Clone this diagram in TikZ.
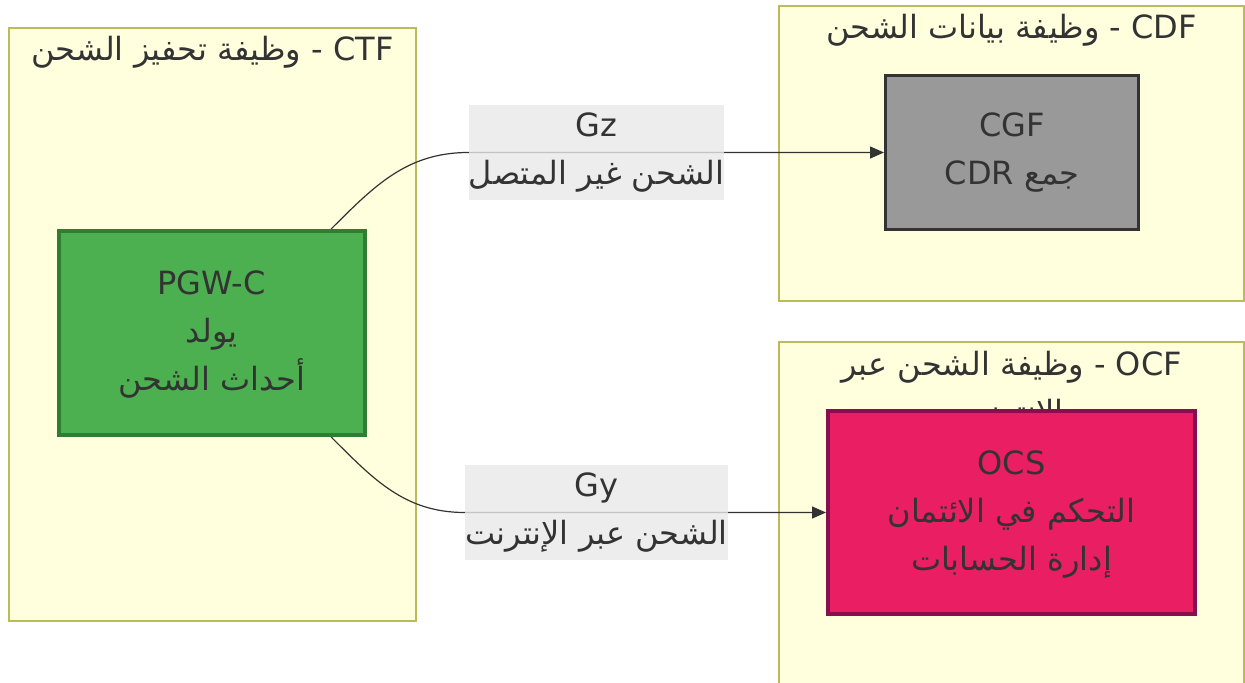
\documentclass[tikz,border=0pt]{standalone}
\usepackage{fontspec}
\setmainfont{DejaVu Sans}
\newfontfamily\arabicfont[Script=Arabic]{DejaVu Sans}
\TeXXeTstate=1
\usetikzlibrary{arrows.meta,positioning}

\definecolor{clusterfill}{HTML}{FFFFDE}
\definecolor{clusterline}{HTML}{AAAA33}
\definecolor{pgwgreen}{HTML}{4CAF50}
\definecolor{pgwdark}{HTML}{2E7D32}
\definecolor{cgfgray}{HTML}{999999}
\definecolor{ocspink}{HTML}{E91E63}
\definecolor{ocsdark}{HTML}{880E4F}
\definecolor{labelgray}{HTML}{E8E8E8}
\definecolor{textgray}{HTML}{333333}

\newcommand{\artext}[1]{{\arabicfont\beginR #1\endR}}
\newcommand{\lat}[1]{\beginL #1\endL{}}

\pgfdeclarelayer{clusters}
\pgfdeclarelayer{edges}
\pgfsetlayers{clusters,edges,main}

\begin{document}
\begin{tikzpicture}[
  x=0.5pt, y=-0.5pt,
  every node/.style={font=\fontsize{16}{24}\selectfont, text=textgray, align=center},
  cluster/.style={draw=clusterline!80, fill=clusterfill, line width=1pt, anchor=north west, inner sep=0pt},
  clustertitle/.style={inner sep=0pt},
  proc/.style={line width=2pt, inner sep=0pt},
  edgelabel/.style={fill=labelgray, fill opacity=0.8, text opacity=1, inner sep=0pt, minimum height=47.5pt},
  arrow/.style={-{Triangle[length=7pt,width=6pt]}, draw=textgray, line width=0.6pt}
]
  \useasboundingbox (0,0) rectangle (1245,683);

  % Define clusters
  \begin{pgfonlayer}{clusters}
    \node[cluster, minimum width=203.5pt, minimum height=296.5pt] (ctf) at (8,27) {};
    \node[cluster, minimum width=232.5pt, minimum height=147.5pt] (cdf) at (778,5) {};
    \node[cluster, minimum width=232.5pt, minimum height=180pt] (ocf) at (778,341) {};

    \node[clustertitle, below=4.5pt of ctf.north] (ctftitle) {\artext{\lat{CTF} - وظيفة تحفيز الشحن}};
    \node[clustertitle, below=4.5pt of cdf.north] (cdftitle) {\artext{\lat{CDF} - وظيفة بيانات الشحن}};
    \node[clustertitle, below=5pt of ocf.north, anchor=north] (ocftitle) {\artext{\lat{OCF} - وظيفة الشحن عبر}\\\artext{الإنترنت}};
  \end{pgfonlayer}

  % Define function nodes
  \node[proc, fill=pgwgreen, draw=pgwdark, minimum width=153pt, minimum height=102pt] (pgw) at (211.5,333)
    {\raisebox{-1.5pt}{\begin{tabular}{@{}c@{}}PGW-C\\\artext{يولد}\\\artext{أحداث الشحن}\end{tabular}}};
  \node[proc, fill=cgfgray, draw=textgray, line width=1.5pt, minimum width=126.5pt, minimum height=77pt] (cgf) at (1012,152.5)
    {CGF\\\artext{جمع \lat{CDR}}};
  \node[proc, fill=ocspink, draw=ocsdark, minimum width=183.5pt, minimum height=101.5pt] (ocs) at (1011.5,512.5)
    {\raisebox{-2pt}{\begin{tabular}{@{}c@{}}OCS\\\artext{التحكم في الائتمان}\\\artext{إدارة الحسابات}\end{tabular}}};

  % Edge labels
  \node[edgelabel, minimum width=127.5pt] (gz) at (596.5,152.5) {Gz\\\artext{الشحن غير المتصل}};
  \node[edgelabel, minimum width=130.5pt] (gy) at (596.5,512.5) {Gy\\\artext{الشحن عبر الإنترنت}};

  % Draw arrows
  \begin{pgfonlayer}{edges}
    \draw[arrow] (pgw.41) to[out=45,in=180] (gz.west) -- (cgf.west);
    \draw[arrow] (pgw.-41) to[out=-45,in=180] (gy.west) -- (ocs.west);
  \end{pgfonlayer}
\end{tikzpicture}
\end{document}
